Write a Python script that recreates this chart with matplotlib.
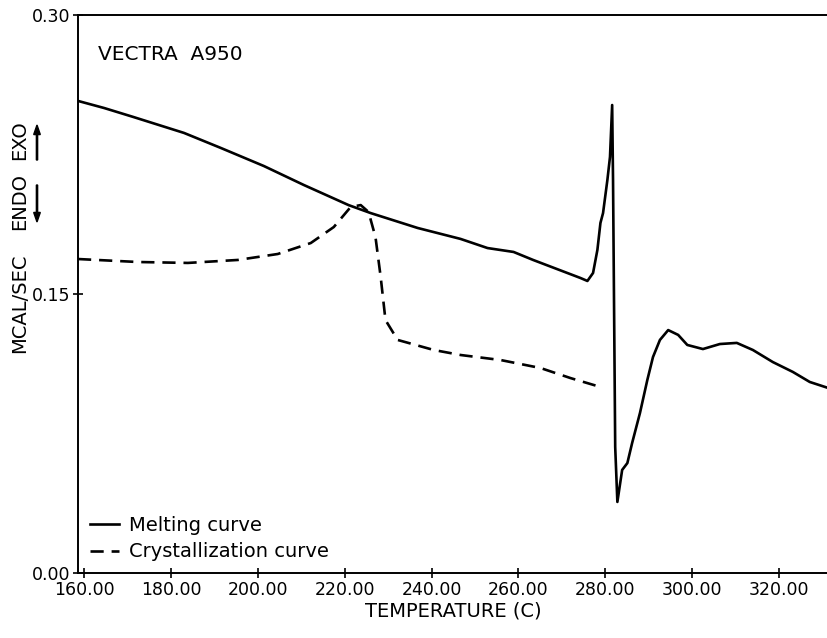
import numpy as np
import matplotlib
matplotlib.use("Agg")
import matplotlib.pyplot as plt

# melting curve (solid)
melt_t = [158.6, 164.6, 171.3, 183.0, 191.5, 201.4, 210.6, 220.9, 226.0, 236.8,
          246.7, 252.9, 258.9, 263.4, 274.3, 275.9, 277.2, 278.2, 278.9, 279.5,
          280.5, 281.1, 281.6, 281.8, 282.3, 282.8, 283.9, 285.1, 286.2, 288.0,
          289.7, 291.0, 292.6, 294.5, 296.8, 298.9, 302.5, 306.4, 310.3, 314.0,
          318.6, 323.2, 327.1, 331.3]
melt_q = [0.2538, 0.2500, 0.2452, 0.2366, 0.2285, 0.2188, 0.2086, 0.1978, 0.1935, 0.1855,
          0.1796, 0.1747, 0.1726, 0.1683, 0.1586, 0.1570, 0.1613, 0.1737, 0.1882, 0.1935,
          0.2113, 0.2237, 0.2516, 0.2113, 0.0677, 0.0382, 0.0554, 0.0591, 0.0699, 0.0860,
          0.1038, 0.1161, 0.1253, 0.1306, 0.1280, 0.1226, 0.1204, 0.1231, 0.1237, 0.1199,
          0.1134, 0.1081, 0.1027, 0.0995]

# crystallization curve (dashed)
cryst_t = [158.6, 172.4, 183.9, 195.4, 204.6, 212.2, 217.5, 221.4, 223.7, 225.5,
           227.1, 228.3, 229.4, 232.2, 240.5, 246.7, 255.9, 265.1, 272.0, 278.9]
cryst_q = [0.1688, 0.1672, 0.1667, 0.1683, 0.1715, 0.1774, 0.1860, 0.1968, 0.1978, 0.1941,
           0.1806, 0.1591, 0.1360, 0.1253, 0.1199, 0.1172, 0.1145, 0.1102, 0.1048, 0.1000]

xticks = [160, 180, 200, 220, 240, 260, 280, 300, 320]
yticks = [0.00, 0.15, 0.30]

fig = plt.figure(figsize=(8.28, 6.38), dpi=100)
ax = fig.add_axes([0.0942, 0.1019, 0.9058, 0.8746])

ax.plot(melt_t, melt_q, color="black", lw=1.9, label="Melting curve")
ax.plot(cryst_t, cryst_q, color="black", lw=1.9, dashes=(5, 3),
        label="Crystallization curve")

ax.set_xlim(158.6, 331.3)
ax.set_ylim(0, 0.30)
ax.set_xticks(xticks)
ax.set_xticklabels(["%.2f" % t for t in xticks])
ax.set_yticks(yticks)
ax.set_yticklabels(["%.2f" % t for t in yticks])
ax.tick_params(direction="inout", length=7, width=1.2, labelsize=12.5, pad=2)
ax.spines["right"].set_visible(False)
for s in ["left", "bottom", "top"]:
    ax.spines[s].set_linewidth(1.4)

ax.set_xlabel("TEMPERATURE (C)", fontsize=14, labelpad=2)
ax.text(0.027, 0.93, "VECTRA  A950", transform=ax.transAxes, fontsize=14.5,
        va="center", ha="left")

# y-axis label with ENDO / EXO arrows
fig.text(20 / 828, 1 - 303 / 638, "MCAL/SEC", rotation=90, fontsize=14,
         ha="center", va="center")
fig.text(20 / 828, 1 - 201 / 638, "ENDO", rotation=90, fontsize=14,
         ha="center", va="center")
fig.text(20 / 828, 1 - 140 / 638, "EXO", rotation=90, fontsize=14,
         ha="center", va="center")
fig.patches.append(matplotlib.patches.FancyArrow(
    37 / 828, 1 - 160 / 638, 0, 35 / 638, width=0.0015, head_width=0.008,
    head_length=0.015, length_includes_head=True, color="black",
    transform=fig.transFigure, figure=fig))
fig.patches.append(matplotlib.patches.FancyArrow(
    37 / 828, 1 - 185 / 638, 0, -37 / 638, width=0.0015, head_width=0.008,
    head_length=0.015, length_includes_head=True, color="black",
    transform=fig.transFigure, figure=fig))

ax.legend(loc="lower left", frameon=False, fontsize=14, handlelength=1.5,
          handletextpad=0.5, borderaxespad=0.2, labelspacing=0.4)

fig.savefig("out.png", dpi=100)
